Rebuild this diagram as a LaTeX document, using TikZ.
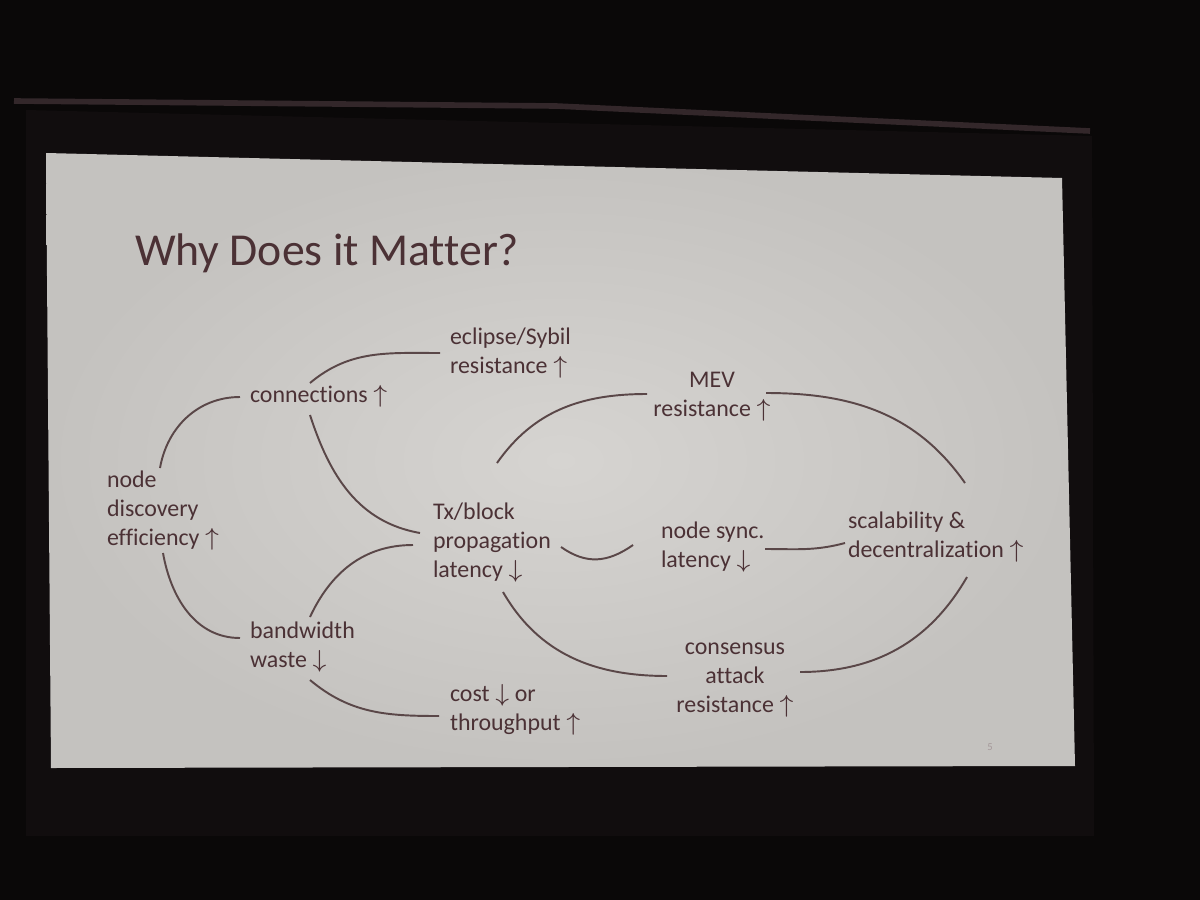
\documentclass[tikz,border=0pt]{standalone}
\usepackage{fontspec}
\setmainfont{Carlito}[Ligatures=NoCommon]
\usepackage{xcolor}
\usepackage{tikz}

\definecolor{ink}{HTML}{4B3135}
\definecolor{wire}{HTML}{5A4748}
\definecolor{screen}{HTML}{D6D4D1}
\definecolor{screenedge}{HTML}{C4C2BF}
\definecolor{room}{HTML}{0A0808}
\definecolor{housing}{HTML}{110D0E}
\definecolor{bar}{HTML}{33272A}
\newcommand{\incr}{$\uparrow$}
\newcommand{\decr}{$\downarrow$}
\tikzset{
  lbl/.style={inner sep=0pt, outer sep=0pt, text=ink, align=left, font=\fontsize{6.8}{8.2}\selectfont},
  link/.style={draw=wire, line width=0.55pt},
}

\begin{document}
\begin{tikzpicture}[x=0.01cm, y=-0.01cm]
 \useasboundingbox (0,0) rectangle (1200,900);
 \fill[room] (0,0) rectangle (1200,900);
 \fill[housing] (26,110) -- (1092,136) -- (1094,836) -- (26,836) -- cycle;
 \draw[bar, line width=1.6pt] (14,101) -- (556,106) -- (1090,131);
 \shade[inner color=screen, outer color=screenedge] (46,153) -- (1062,178) -- (1075,766) -- (51,768) -- cycle;

 \node[lbl, anchor=base west, font=\fontsize{13}{15}\selectfont] (title) at (135,265) {Why Does it Matter?};

 \node[lbl, anchor=base west] (eclipse) at (450,373.5) {eclipse/Sybil\\resistance \incr};
 \node[lbl, anchor=base west] (conn) at (250,402.5) {connections \incr};
 \node[lbl, anchor=base, align=center] (mev) at (712,416.5) {MEV\\resistance \incr};
 \node[lbl, anchor=base west] (disc) at (107,545.5) {node\\discovery\\efficiency \incr};
 \node[lbl, anchor=base west] (tx) at (433,577.5) {Tx/block\\propagation\\latency \decr};
 \node[lbl, anchor=base west] (sync) at (661,567.5) {node sync.\\latency \decr};
 \node[lbl, anchor=base west] (scal) at (848,557.5) {scalability \&\\decentralization \incr};
 \node[lbl, anchor=base west] (band) at (250,667) {bandwidth\\waste \decr};
 \node[lbl, anchor=base west] (cost) at (450,730.5) {cost \decr{} or\\throughput \incr};
 \node[lbl, anchor=base, align=center] (cons) at (735,712.5) {consensus\\attack\\resistance \incr};
 \node[lbl, text=ink!50, font=\fontsize{3}{4}\selectfont] (pnum) at (990,747) {5};

 \draw[link] ([shift={(53,-77.5)}]disc.base west) to[out=80,in=180] ([shift={(-10,-5.5)}]conn.base west);
 \draw[link] ([shift={(56,7.5)}]disc.base west) to[out=-80,in=180] ([shift={(-10,-29)}]band.base west);
 \draw[link] ([shift={(60,-19.5)}]conn.base west) to[out=40,in=180] ([shift={(-10,-20.5)}]eclipse.base west);
 \draw[link] ([shift={(60,12.5)}]conn.base west) to[out=-72,in=170] ([shift={(-13,-44.5)}]tx.base west);
 \draw[link] ([shift={(60,-50)}]band.base west) to[out=65,in=180] ([shift={(-20,-32.5)}]tx.base west);
 \draw[link] ([shift={(60,13)}]band.base west) to[out=-40,in=180] ([shift={(-11,-14.5)}]cost.base west);
 \draw[link] ([shift={(64,-114.5)}]tx.base west) to[out=55,in=180] ([shift={(-65,-22.5)}]mev.base);
 \draw[link] ([shift={(54,-23.5)}]mev.base) to[out=0,in=125] ([shift={(117,-74.5)}]scal.base west);
 \draw[link] ([shift={(128,-30.5)}]tx.base west) to[out=-35,in=-145,looseness=1.1] ([shift={(-28,-22.5)}]sync.base west);
 \draw[link] ([shift={(104,-18.5)}]sync.base west) to[out=0,in=195] ([shift={(-3,-14.5)}]scal.base west);
 \draw[link] ([shift={(70,14.5)}]tx.base west) to[out=-60,in=180] ([shift={(-68,-36.5)}]cons.base);
 \draw[link] ([shift={(65,-40.5)}]cons.base) to[out=0,in=-120] ([shift={(119,19.5)}]scal.base west);
\end{tikzpicture}
\end{document}
